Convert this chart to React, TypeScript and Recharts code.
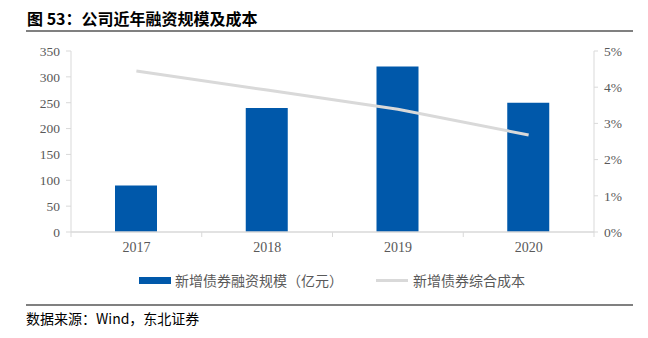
import React from "react";
import { ComposedChart, Bar, Line, XAxis, YAxis } from "recharts";

const years = ["2017", "2018", "2019", "2020"];
const financingScale = [90, 240, 320, 250];
const compositeCost = [4.45, 3.92, 3.39, 2.68];
const leftTicks = [0, 50, 100, 150, 200, 250, 300, 350];
const rightTicks = [0, 1, 2, 3, 4, 5];

const seriesBarName = "新增债券融资规模（亿元）";
const seriesLineName = "新增债券综合成本";
const titleText = "图 53：公司近年融资规模及成本";
const sourceText = "数据来源：Wind，东北证券";

const data = years.map((y, i) => ({
  year: y,
  scale: financingScale[i],
  cost: compositeCost[i],
}));

const PLOT_LEFT = 71;
const PLOT_RIGHT = 594;
const BAND = (PLOT_RIGHT - PLOT_LEFT) / years.length;
const AXIS_COLOR = "#d9d9d9";
const TEXT_COLOR = "#595959";
const SERIF = "'Liberation Serif', 'DejaVu Serif', serif";
const CJK = "'Noto Sans CJK SC', sans-serif";

const XTick = (props: any) => {
  const { x, y, payload, index } = props;
  const isLast = index === years.length - 1;
  return (
    <g>
      <line x1={x - BAND / 2} x2={x - BAND / 2} y1={y - 8} y2={y - 3} stroke={AXIS_COLOR} />
      {isLast && (
        <line x1={x + BAND / 2} x2={x + BAND / 2} y1={y - 8} y2={y - 3} stroke={AXIS_COLOR} />
      )}
      <text x={x} y={y + 12} textAnchor="middle" fill={TEXT_COLOR} fontSize={14} fontFamily={SERIF}>
        {payload.value}
      </text>
    </g>
  );
};

const legendItem: React.CSSProperties = {
  position: "absolute",
  top: 270,
  display: "flex",
  alignItems: "center",
  fontFamily: CJK,
  fontSize: 14,
  color: TEXT_COLOR,
  whiteSpace: "nowrap",
};

export default function App() {
  return (
    <div style={{ position: "absolute", left: 0, top: 0, width: 648, height: 338, background: "#fff" }}>
      <div
        style={{
          position: "absolute",
          left: 27,
          top: 6,
          fontFamily: CJK,
          fontWeight: 700,
          fontSize: 16,
          color: "#000",
          whiteSpace: "nowrap",
        }}
      >
        {titleText}
      </div>
      <div style={{ position: "absolute", left: 26, top: 30, width: 607, height: 2, background: "#808080" }} />
      <ComposedChart
        width={648}
        height={338}
        data={data}
        margin={{ top: 51, right: 14, bottom: 76, left: 31 }}
        style={{ position: "absolute", left: 0, top: 0 }}
      >
        <XAxis
          dataKey="year"
          xAxisId="x"
          height={30}
          axisLine={{ stroke: AXIS_COLOR, strokeWidth: 1.5 }}
          tickLine={false}
          tick={<XTick />}
          interval={0}
        />
        <YAxis
          yAxisId="left"
          orientation="left"
          width={40}
          domain={[0, 350]}
          ticks={leftTicks}
          axisLine={{ stroke: AXIS_COLOR }}
          tickLine={{ stroke: AXIS_COLOR }}
          tickSize={5}
          tickMargin={6}
          tick={{ fill: TEXT_COLOR, fontSize: 13.5, fontFamily: SERIF }}
        />
        <YAxis
          yAxisId="right"
          orientation="right"
          width={40}
          domain={[0, 5]}
          ticks={rightTicks}
          tickFormatter={(v: number) => `${v}%`}
          axisLine={{ stroke: AXIS_COLOR }}
          tickLine={{ stroke: AXIS_COLOR }}
          tickSize={4}
          tickMargin={6}
          tick={{ fill: TEXT_COLOR, fontSize: 13.5, fontFamily: SERIF }}
        />
        <Bar
          dataKey="scale"
          xAxisId="x"
          yAxisId="left"
          fill="#0058AA"
          barSize={42}
          isAnimationActive={false}
        />
        <Line
          dataKey="cost"
          xAxisId="x"
          yAxisId="right"
          stroke="#d9d9d9"
          strokeWidth={3}
          dot={false}
          activeDot={false}
          isAnimationActive={false}
        />
      </ComposedChart>
      <div style={{ ...legendItem, left: 139 }}>
        <span style={{ display: "inline-block", width: 32, height: 7, background: "#0058AA", marginRight: 4 }} />
        <span>{seriesBarName}</span>
      </div>
      <div style={{ ...legendItem, left: 376 }}>
        <span style={{ display: "inline-block", width: 32, height: 3, background: "#d9d9d9", marginRight: 5 }} />
        <span>{seriesLineName}</span>
      </div>
      <div style={{ position: "absolute", left: 26, top: 304, width: 607, height: 2, background: "#808080" }} />
      <div
        style={{
          position: "absolute",
          left: 26,
          top: 308,
          fontFamily: CJK,
          fontSize: 14,
          color: "#000",
          whiteSpace: "nowrap",
        }}
      >
        {sourceText}
      </div>
    </div>
  );
}
